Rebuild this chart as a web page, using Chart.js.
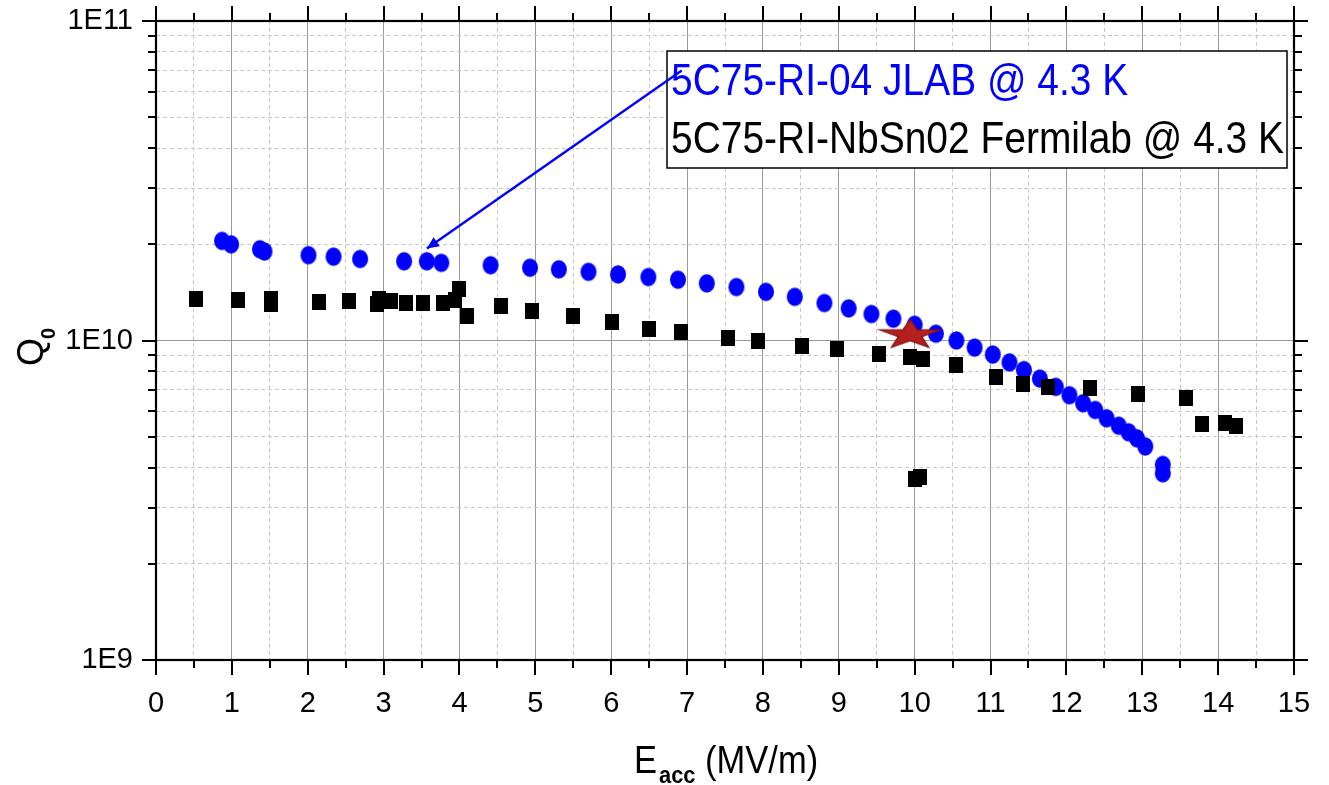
<!DOCTYPE html>
<html>
<head>
<meta charset="utf-8">
<script src="https://cdn.jsdelivr.net/npm/chart.js@4.4.0/dist/chart.umd.min.js"></script>
<style>
  html, body { margin: 0; padding: 0; background: #ffffff; }
  #wrap { width: 1329px; height: 785px; position: relative; }
</style>
</head>
<body>
<div id="wrap"><canvas id="c"></canvas></div>
<script>
// Q0 vs accelerating gradient, two cavity tests at 4.3 K
const jlabE = [0.87, 0.99, 1.37, 1.43, 2.01, 2.34, 2.69, 3.27, 3.57, 3.76, 4.41, 4.93, 5.31, 5.70,
               6.09, 6.49, 6.88, 7.26, 7.65, 8.04, 8.42, 8.81, 9.13, 9.43, 9.72, 10.00, 10.28, 10.55,
               10.79, 11.03, 11.25, 11.44, 11.65, 11.86, 12.04, 12.22, 12.38, 12.53, 12.69, 12.82,
               12.93, 13.04, 13.27, 13.27];
const jlabQ = [2.05e10, 2.00e10, 1.93e10, 1.90e10, 1.85e10, 1.83e10, 1.80e10, 1.77e10, 1.77e10,
               1.75e10, 1.72e10, 1.69e10, 1.67e10, 1.64e10, 1.61e10, 1.58e10, 1.55e10, 1.51e10,
               1.47e10, 1.42e10, 1.37e10, 1.31e10, 1.26e10, 1.21e10, 1.17e10, 1.12e10, 1.05e10,
               1.00e10, 9.50e9, 9.04e9, 8.54e9, 8.08e9, 7.60e9, 7.16e9, 6.74e9, 6.36e9, 6.06e9,
               5.71e9, 5.41e9, 5.16e9, 4.94e9, 4.66e9, 4.08e9, 3.84e9];

const fnalE = [0.53, 1.08, 1.51, 1.51, 2.15, 2.54, 2.94, 2.91, 3.10, 3.29, 3.52, 3.78, 3.94, 4.00,
               4.10, 4.55, 4.95, 5.49, 6.01, 6.50, 6.92, 7.54, 7.94, 8.51, 8.97, 9.53, 9.94, 10.11,
               10.55, 11.07, 11.43, 11.76, 12.31, 12.95, 13.57, 13.79, 14.09, 14.24, 10.00, 10.07];
const fnalQ = [1.35e10, 1.34e10, 1.35e10, 1.30e10, 1.32e10, 1.33e10, 1.35e10, 1.30e10, 1.33e10,
               1.31e10, 1.31e10, 1.31e10, 1.34e10, 1.45e10, 1.19e10, 1.28e10, 1.24e10, 1.19e10,
               1.14e10, 1.09e10, 1.06e10, 1.02e10, 1.00e10, 9.60e9, 9.40e9, 9.10e9, 8.85e9, 8.73e9,
               8.41e9, 7.66e9, 7.30e9, 7.13e9, 7.08e9, 6.80e9, 6.59e9, 5.47e9, 5.50e9, 5.41e9,
               3.68e9, 3.73e9];

// design point
const starE = [9.94];
const starQ = [1.05e10];

const seriesNames = ['5C75-RI-04 JLAB @ 4.3 K', '5C75-RI-NbSn02 Fermilab @ 4.3 K'];
const seriesColors = ['#0000ff', '#000000'];

const xMin = 0, xMax = 15, xStep = 0.5;
const yDecades = [1e9, 1e10, 1e11];
const yTickLabels = ['1E9', '1E10', '1E11'];
const yMinorSteps = [2, 3, 4, 5, 6, 7, 8, 9];

// pointer from the JLAB label to its curve (data units)
const arrowFrom = { x: 6.93, y: 7.0e10 };
const arrowTo = { x: 3.57, y: 1.94e10 };

const FONT = "'Liberation Sans', Arial, sans-serif";

function isMajorY(v) {
  return yDecades.some(d => Math.abs(v / d - 1) < 1e-9);
}
function isMajorX(v) {
  return Math.abs(v - Math.round(v)) < 1e-9;
}

// marker sprites: slightly tall dots and squares
function makeDot(color, w, h) {
  const c = document.createElement('canvas');
  c.width = Math.ceil(w) + 2; c.height = Math.ceil(h) + 2;
  const g = c.getContext('2d');
  g.fillStyle = color;
  g.beginPath();
  g.ellipse(c.width / 2, c.height / 2, w / 2, h / 2, 0, 0, Math.PI * 2);
  g.fill();
  return c;
}
function makeSquare(color, w, h) {
  const c = document.createElement('canvas');
  c.width = Math.ceil(w); c.height = Math.ceil(h);
  const g = c.getContext('2d');
  g.fillStyle = color;
  g.fillRect(0, 0, w, h);
  return c;
}
function makeStar() {
  const c = document.createElement('canvas');
  c.width = 66; c.height = 32;
  const g = c.getContext('2d');
  const cx = 33, cy = 17, R = 15.5, r = 6.0, sx = 2.05;
  g.beginPath();
  for (let i = 0; i < 10; i++) {
    const a = -Math.PI / 2 + i * Math.PI / 5;
    const rad = i % 2 ? r : R;
    g.lineTo(cx + sx * rad * Math.cos(a), cy + rad * Math.sin(a));
  }
  g.closePath();
  g.fillStyle = '#b51f1f';
  g.fill();
  g.strokeStyle = '#7c1111';
  g.lineWidth = 1.2;
  g.stroke();
  return c;
}

function drawScaledText(ctx, text, x, y, sx) {
  ctx.save();
  ctx.translate(x, y);
  ctx.scale(sx, 1);
  ctx.fillText(text, 0, 0);
  ctx.restore();
  return ctx.measureText(text).width * sx;
}

const decorPlugin = {
  id: 'decor',
  afterDraw(chart) {
    const { ctx, chartArea: a, scales: { x, y } } = chart;
    ctx.save();
    const seg = (x1, y1, x2, y2) => { ctx.beginPath(); ctx.moveTo(x1, y1); ctx.lineTo(x2, y2); ctx.stroke(); };

    // tick marks on all four sides, pointing outward
    ctx.strokeStyle = '#000';
    ctx.lineWidth = 2;
    x.ticks.forEach(t => {
      const px = Math.round(x.getPixelForValue(t.value));
      const L = isMajorX(t.value) ? 15 : 8;
      seg(px, a.bottom, px, a.bottom + L);
      seg(px, a.top, px, a.top - L);
    });
    y.ticks.forEach(t => {
      const py = Math.round(y.getPixelForValue(t.value));
      const L = isMajorY(t.value) ? 14 : 8;
      seg(a.left - L, py, a.left, py);
      seg(a.right, py, a.right + L, py);
    });
    // frame
    ctx.lineWidth = 2.2;
    ctx.strokeRect(a.left, a.top, a.right - a.left, a.bottom - a.top);

    // legend box (text only)
    const bx = a.left + 511, by = a.top + 30, bw = 620, bh = 117;
    ctx.fillStyle = '#fff';
    ctx.fillRect(bx, by, bw, bh);
    ctx.lineWidth = 1.5;
    ctx.strokeStyle = '#000';
    ctx.strokeRect(bx, by, bw, bh);
    ctx.font = '44px ' + FONT;
    ctx.textBaseline = 'alphabetic';
    ctx.textAlign = 'left';
    ctx.fillStyle = seriesColors[0];
    drawScaledText(ctx, seriesNames[0], bx + 4, by + 43.5, 0.885);
    ctx.fillStyle = seriesColors[1];
    drawScaledText(ctx, seriesNames[1], bx + 4, by + 102, 0.885);

    // pointer arrow
    const x1 = x.getPixelForValue(arrowFrom.x), y1 = y.getPixelForValue(arrowFrom.y);
    const x2 = x.getPixelForValue(arrowTo.x), y2 = y.getPixelForValue(arrowTo.y);
    ctx.strokeStyle = '#0000ff';
    ctx.fillStyle = '#0000ff';
    ctx.lineWidth = 2.4;
    seg(x1, y1, x2, y2);
    const ang = Math.atan2(y2 - y1, x2 - x1);
    const hl = 12, hw = 5.5;
    ctx.beginPath();
    ctx.moveTo(x2, y2);
    ctx.lineTo(x2 - hl * Math.cos(ang) + hw * Math.sin(ang), y2 - hl * Math.sin(ang) - hw * Math.cos(ang));
    ctx.lineTo(x2 - hl * Math.cos(ang) - hw * Math.sin(ang), y2 - hl * Math.sin(ang) + hw * Math.cos(ang));
    ctx.closePath();
    ctx.fill();

    // x axis title: E_acc (MV/m)
    ctx.fillStyle = '#000';
    ctx.font = '39px ' + FONT;
    let tx = 634;
    const ty = 773;
    tx += drawScaledText(ctx, 'E', tx, ty, 0.885) + 2;
    ctx.font = 'bold 23px ' + FONT;
    tx += drawScaledText(ctx, 'acc', tx, ty + 10, 0.95);
    ctx.font = '39px ' + FONT;
    drawScaledText(ctx, ' (MV/m)', tx, ty, 0.885);

    // y axis title: Q_0 (rotated)
    ctx.save();
    ctx.translate(43, 366);
    ctx.rotate(-Math.PI / 2);
    ctx.font = '36px ' + FONT;
    ctx.fillText('Q', 0, 0);
    const qw = ctx.measureText('Q').width;
    ctx.font = 'bold 20px ' + FONT;
    ctx.fillText('0', qw - 1, 12);
    ctx.restore();

    ctx.restore();
  }
};

const dotImg = makeDot(seriesColors[0], 16, 18.5);
const squareImg = makeSquare(seriesColors[1], 14, 16);
const starImg = makeStar();

new Chart(document.getElementById('c'), {
  type: 'scatter',
  data: {
    datasets: [
      {
        label: seriesNames[0],
        data: jlabE.map((e, i) => ({ x: e, y: jlabQ[i] })),
        pointStyle: dotImg,
        pointRadius: 9,
        order: 3
      },
      {
        label: seriesNames[1],
        data: fnalE.map((e, i) => ({ x: e, y: fnalQ[i] })),
        pointStyle: squareImg,
        pointRadius: 9,
        order: 2
      },
      {
        label: 'design',
        data: starE.map((e, i) => ({ x: e, y: starQ[i] })),
        pointStyle: starImg,
        pointRadius: 16,
        order: 1
      }
    ]
  },
  options: {
    responsive: true,
    maintainAspectRatio: false,
    animation: false,
    events: [],
    layout: { padding: { top: 21, right: 35, left: 0, bottom: 0 } },
    plugins: {
      legend: { display: false },
      tooltip: { enabled: false },
      title: { display: false }
    },
    scales: {
      x: {
        type: 'linear',
        min: xMin,
        max: xMax,
        afterFit: s => { s.height = 125; s.paddingLeft = 0; s.paddingRight = 0; },
        ticks: {
          stepSize: xStep,
          autoSkip: false,
          maxRotation: 0,
          padding: 27,
          color: '#000',
          font: { family: FONT, size: 29 },
          callback: v => (isMajorX(v) ? String(Math.round(v)) : '')
        },
        grid: {
          drawTicks: false,
          lineWidth: 1,
          color: c => (c.tick && isMajorX(c.tick.value) ? '#9a9a9a' : '#c9c9c9')
        },
        border: {
          display: false,
          dash: c => (c.tick && isMajorX(c.tick.value) ? [] : [4, 3])
        }
      },
      y: {
        type: 'logarithmic',
        min: yDecades[0],
        max: yDecades[yDecades.length - 1],
        afterFit: s => { s.width = 156; s.paddingTop = 0; s.paddingBottom = 0; },
        afterBuildTicks: s => {
          const t = [];
          yDecades.forEach((d, i) => {
            t.push({ value: d });
            if (i < yDecades.length - 1) yMinorSteps.forEach(m => t.push({ value: m * d }));
          });
          s.ticks = t;
        },
        ticks: {
          autoSkip: false,
          padding: 23,
          color: '#000',
          font: { family: FONT, size: 29 },
          callback: v => {
            const i = yDecades.findIndex(d => Math.abs(v / d - 1) < 1e-9);
            return i >= 0 ? yTickLabels[i] : '';
          }
        },
        grid: {
          drawTicks: false,
          lineWidth: 1,
          color: c => (c.tick && isMajorY(c.tick.value) ? '#9a9a9a' : '#c9c9c9')
        },
        border: {
          display: false,
          dash: c => (c.tick && isMajorY(c.tick.value) ? [] : [4, 3])
        }
      }
    }
  },
  plugins: [decorPlugin]
});
</script>
</body>
</html>
